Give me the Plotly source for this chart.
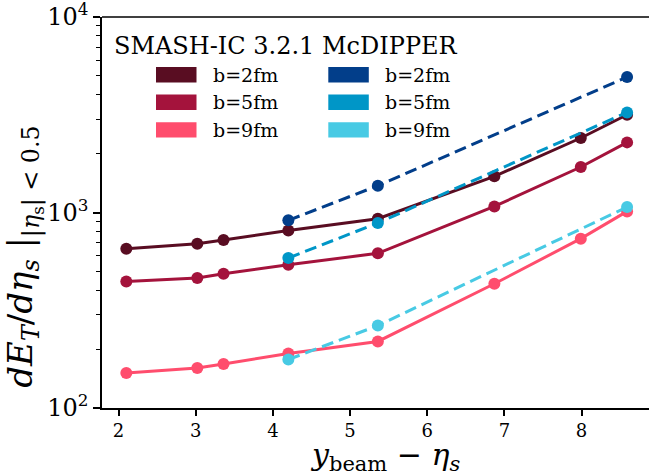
import plotly.graph_objects as go

# ---- data ----
x_solid = [2.1, 3.02, 3.36, 4.2, 5.36, 6.87, 7.99, 8.59]
x_dash = [4.2, 5.36, 8.59]

red_b2 = [653, 692, 723, 809, 929, 1531, 2405, 3162]
red_b5 = [444, 462, 486, 541, 618, 1074, 1709, 2284]
red_b9 = [151, 160, 168, 190, 219, 432, 735, 1013]

blue_b2 = [912, 1371, 4932]
blue_b5 = [585, 884, 3251]
blue_b9 = [177, 264, 1067]

labels = ["b=2fm", "b=5fm", "b=9fm"]
red_colors = ["#590d22", "#a4133c", "#ff4d6d"]
blue_colors = ["#023e8a", "#0096c7", "#48cae4"]
legend_title = "SMASH-IC 3.2.1 McDIPPER"

ytick_vals = [100, 1000, 10000]
ytick_text = ["10<sup>2</sup>", "10<sup>3</sup>", "10<sup>4</sup>"]
yminor_vals = [m * d for d in (100, 1000) for m in range(2, 10)]
xtick_vals = [2, 3, 4, 5, 6, 7, 8]

FONT = "DejaVu Serif"
W, H = 649, 474
L, R, T, B = 102, 0, 17.3, 65.7
PW = W - L - R
PH = H - T - B


def px(x):
    return (x - L) / PW


def py(y):
    return (H - B - y) / PH


fig = go.Figure()

for ys, c, lab in zip([red_b2, red_b5, red_b9], red_colors, labels):
    fig.add_trace(go.Scatter(x=x_solid, y=ys, mode="lines+markers", name=lab,
                             line=dict(color=c, width=3),
                             marker=dict(color=c, size=12), showlegend=False))
for ys, c, lab in zip([blue_b2, blue_b5, blue_b9], blue_colors, labels):
    fig.add_trace(go.Scatter(x=x_dash, y=ys, mode="lines+markers", name=lab,
                             line=dict(color=c, width=3, dash="12px,6px"),
                             marker=dict(color=c, size=12), showlegend=False))

shapes = []
annotations = []

# top spine
shapes.append(dict(type="line", xref="paper", yref="paper", x0=0, x1=1.05, y0=1, y1=1,
                   line=dict(color="black", width=1.5)))

# manual legend
annotations.append(dict(text=legend_title, xref="paper", yref="paper", x=px(286), y=py(46),
                        xanchor="center", yanchor="middle", showarrow=False,
                        font=dict(family=FONT, size=24, color="black")))
row_c = [75, 102.5, 130.2]
for i in range(3):
    for colors, x0p, tx in [(red_colors, 156, 211), (blue_colors, 328.3, 382.7)]:
        shapes.append(dict(type="rect", xref="paper", yref="paper",
                           x0=px(x0p), x1=px(x0p + 40.5), y0=py(row_c[i] - 7.7), y1=py(row_c[i] + 7.7),
                           fillcolor=colors[i], line=dict(width=0)))
        annotations.append(dict(text=labels[i], xref="paper", yref="paper", x=px(tx), y=py(row_c[i]),
                                xanchor="left", yanchor="middle", showarrow=False,
                                font=dict(family=FONT, size=19, color="black")))

# y title
annotations.append(dict(
    text="<i>dE</i><sub><i>T</i></sub>/<i>dη</i><sub><i>s</i></sub> |<sub>|<i>η</i><sub>s</sub>| &lt; 0.5</sub>",
    xref="paper", yref="paper", x=px(24), y=py(257), textangle=-90,
    xanchor="center", yanchor="middle", showarrow=False,
    font=dict(family=FONT, size=34, color="black")))
# x title
annotations.append(dict(
    text="<i>y</i><sub>beam</sub> − <i>η<sub>s</sub></i>",
    xref="paper", yref="paper", x=px(385), y=py(457),
    xanchor="center", yanchor="middle", showarrow=False,
    font=dict(family=FONT, size=30, color="black")))

fig.update_layout(
    width=W, height=H,
    margin=dict(l=L, r=R, t=T, b=B, pad=0),
    paper_bgcolor="white", plot_bgcolor="white",
    shapes=shapes, annotations=annotations,
    showlegend=False,
    xaxis=dict(range=[1.785, 8.874], tickvals=xtick_vals, showgrid=False, zeroline=False,
               showline=True, linecolor="black", linewidth=1.5,
               ticks="outside", ticklen=6, tickwidth=1.5, tickcolor="black",
               tickfont=dict(family=FONT, size=18, color="black")),
    yaxis=dict(type="log", range=[1.9999, 4.0001], tickmode="array",
               tickvals=ytick_vals, ticktext=ytick_text, ticklabeloverflow="allow",
               showgrid=False, zeroline=False,
               showline=True, linecolor="black", linewidth=1.5,
               ticks="outside", ticklen=7, tickwidth=1.5, tickcolor="black",
               tickfont=dict(family=FONT, size=24, color="black"),
               minor=dict(tickmode="array", tickvals=yminor_vals, ticks="outside",
                          ticklen=4, tickwidth=1, tickcolor="black", showgrid=False)),
)

fig.write_html("out.html")
